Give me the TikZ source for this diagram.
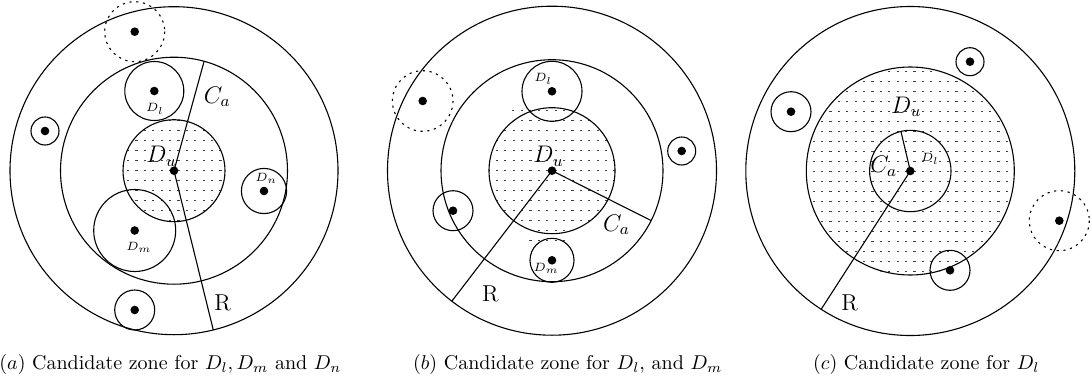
\documentclass[tikz,border=0pt]{standalone}
\begin{document}
\newcommand\mydashfill[4]{%
  \begin{scope}
    \clip (#1,#2) circle (#3);
    \foreach \i in {-13,...,13}{%
      \foreach \j in {-11,...,11}{%
        \draw[pat] ({#1+#4+\i*8.4},{#2+\j*10}) -- ++(2.2,0);
      }}
  \end{scope}}
\tikzset{
  ln/.style={line width=0.55pt},
  dcirc/.style={line width=0.55pt, dash pattern=on 1.1pt off 2.3pt},
  dot/.style={circle, fill=black, inner sep=0pt, minimum size=4.3pt},
  biglbl/.style={inner sep=0pt, anchor=base west, font=\fontsize{11.5}{13}\selectfont},
  smalllbl/.style={inner sep=0pt, anchor=base west, font=\fontsize{6}{7}\selectfont},
  captext/.style={inner sep=0pt, anchor=base west, font=\fontsize{10}{12}\selectfont},
  pat/.style={line width=0.4pt, black!75},
}
\begin{tikzpicture}[x=0.5pt,y=-0.5pt]
\useasboundingbox (0,0) rectangle (1092,380);
% ---------------- panel (a) ----------------
\mydashfill{174}{170.7}{51}{-5.1}
\node[dot] (aU) at (174,170.7) {};
\node[dot] (aL) at (154.3,91) {};
\node[dot] (aM) at (134.7,230.5) {};
\node[dot] (aN) at (264,191) {};
\node[dot] (aD) at (134.7,31.7) {};
\node[dot] (aS) at (45,131) {};
\node[dot] (aB) at (134.7,310) {};
\coordinate (aCa) at (204,61.7);
\coordinate (aR) at (213.3,330);
\draw[ln] (aU) circle (164);
\draw[ln] (aU) circle (113.5);
\draw[ln] (aU) circle (51);
\draw[dcirc] (aD) circle (30);
\draw[ln] (aL) circle (29.5);
\draw[ln] (aS) circle (14);
\draw[ln] (aN) circle (22.6);
\draw[ln] (aM) circle (41);
\draw[ln] (aB) circle (20);
\draw[ln] (aU.center) -- (aCa);
\draw[ln] (aU.center) -- (aR);
\node[biglbl] (aCal) at (203.5,103.3) {$C_a$};
\node[biglbl] (aRl) at (214,310.7) {R};
\node[biglbl] (aUl) at (146,162.7) {$D_u$};
\node[smalllbl] (aLl) at (145.7,111.5) {$D_l$};
\node[smalllbl] (aMl) at (126,250.7) {$D_m$};
\node[smalllbl] (aNl) at (255,181.7) {$D_n$};
% ---------------- panel (b) ----------------
\mydashfill{552}{170.7}{63}{-5.8}
\foreach \x in {512.2,520.6,529.0} \draw[pat] (\x,110.7) -- ++(2.2,0);
\foreach \x in {529.4,537.8,546.2,554.6,563.0} \draw[pat] (\x,240.7) -- ++(2.2,0);
\node[dot] (bU) at (552,170.7) {};
\node[dot] (bL) at (552,91.3) {};
\node[dot] (bM) at (552,260.3) {};
\node[dot] (bD) at (422.7,101) {};
\node[dot] (bS) at (681.7,151) {};
\node[dot] (bW) at (453,210.7) {};
\coordinate (bCa) at (651.2,220.6);
\coordinate (bR) at (451.8,301.2);
\draw[ln] (bU) circle (164.5);
\draw[ln] (bU) circle (111);
\draw[ln] (bU) circle (63);
\draw[ln] (bL) circle (30);
\draw[dcirc] (bD) circle (30.3);
\draw[ln] (bS) circle (14);
\draw[ln] (bW) circle (20);
\draw[ln] (bM) circle (22);
\draw[ln] (bU.center) -- (bCa);
\draw[ln] (bU.center) -- (bR);
\node[biglbl] (bUl) at (533,162.7) {$D_u$};
\node[smalllbl] (bLl) at (534,81.7) {$D_l$};
\node[smalllbl] (bMl) at (533.3,271.7) {$D_m$};
\node[biglbl] (bCal) at (602.7,231) {$C_a$};
\node[biglbl] (bRl) at (481.7,301) {R};
% ---------------- panel (c) ----------------
\mydashfill{910}{171.7}{104}{-5}
\node[dot] (cU) at (910.3,171) {};
\node[dot] (cS) at (970,61.7) {};
\node[dot] (cW) at (791,111.7) {};
\node[dot] (cB) at (950,270.3) {};
\node[dot] (cD) at (1059.3,220.7) {};
\coordinate (cCa) at (900.9,131.3);
\coordinate (cR) at (821.1,309.4);
\draw[ln] (cU) circle (164.5);
\draw[ln] (cU) circle (104);
\draw[ln] (cU) circle (40.7);
\draw[ln] (cS) circle (14);
\draw[ln] (cW) circle (20);
\draw[ln] (cB) circle (20);
\draw[dcirc] (cD) circle (30);
\draw[ln] (cU.center) -- (cCa);
\draw[ln] (cU.center) -- (cR);
\node[biglbl] (cUl) at (890.7,113.3) {$D_u$};
\node[biglbl] (cCal) at (870,172.7) {$C_a$};
\node[smalllbl] (cLl) at (920.7,161.7) {$D_l$};
\node[biglbl] (cRl) at (841,310.7) {R};
% ---------------- captions ----------------
\node[captext] (capa) at (-1,369.5) {$(a)$ Candidate zone for $D_l, D_m$ and $D_n$};
\node[captext] (capb) at (412.7,369.5) {$(b)$ Candidate zone for $D_l$, and $D_m$};
\node[captext] (capc) at (812.7,369.5) {$(c)$ Candidate zone for $D_l$};
\end{tikzpicture}
\end{document}
